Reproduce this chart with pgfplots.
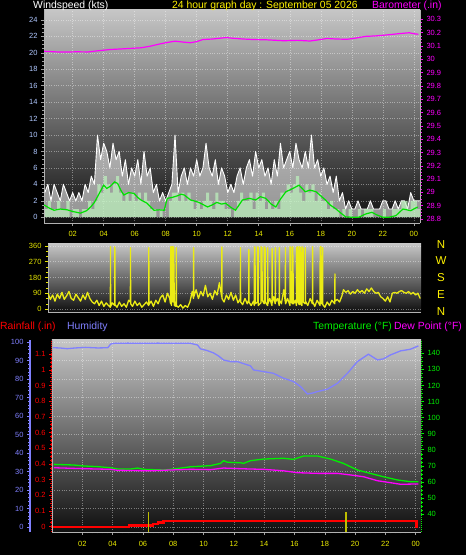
\documentclass[border=0pt]{standalone}
\usepackage{pgfplots}
\pgfplotsset{compat=1.18}
\usepackage{pgfplotstable}
\usepackage{fontspec}
\setmainfont{Liberation Sans}
\definecolor{windblue}{RGB}{176,200,255}
\definecolor{xyellow}{RGB}{235,235,0}
\definecolor{baromag}{RGB}{255,0,255}
\definecolor{humblue}{RGB}{128,128,255}
\definecolor{rainred}{RGB}{255,0,0}
\definecolor{tempgreen}{RGB}{0,240,0}
\definecolor{diryellow}{RGB}{230,230,0}
\definecolor{dirline}{RGB}{235,235,20}
\definecolor{avggreen}{RGB}{190,245,190}
\definecolor{linegreen}{RGB}{0,225,0}
\definecolor{markyellow}{RGB}{190,190,0}
\definecolor{ptop}{RGB}{198,198,198}
\definecolor{pbot}{RGB}{15,15,15}
\newcommand{\tf}{\fontsize{7.5}{8}\selectfont}
\newcommand{\hf}{\fontsize{10.4}{12}\selectfont}

\pgfplotstableread{
h g a
0.2 3 1
0.4 4 2
0.6 2 1
0.8 4 1
1.0 3 2
1.2 2 1
1.4 4 1
1.6 3 2
1.8 2 0
2.0 3 1
2.2 2 1
2.4 3 0
2.6 2 1
2.8 4 1
3.0 3 2
3.2 5 1
3.4 4 2
3.6 10 4
3.8 7 3
4.0 9 5
4.2 8 4
4.4 6 3
4.6 9 4
4.8 7 5
5.0 8 3
5.2 5 2
5.4 7 3
5.6 4 2
5.8 6 3
6.0 5 2
6.2 7 3
6.4 4 2
6.6 8 3
6.8 5 2
7.0 6 1
7.2 3 1
7.4 4 0
7.6 2 1
7.8 3 0
8.0 2 0
8.2 3 2
8.4 4 3
8.6 10 3
8.8 3 2
9.0 5 3
9.2 6 2
9.4 4 3
9.6 6 2
9.8 5 1
10.0 7 2
10.2 5 1
10.4 6 2
10.6 9 3
10.8 6 2
11.0 5 1
11.2 7 3
11.4 4 2
11.6 6 2
11.8 5 1
12.0 3 1
12.2 4 0
12.4 3 1
12.6 5 2
12.8 6 3
13.0 4 2
13.2 6 2
13.4 7 3
13.6 5 1
13.8 8 3
14.0 6 2
14.2 7 3
14.4 5 1
14.6 6 2
14.8 4 1
15.0 7 2
15.2 5 1
15.4 9 3
15.6 6 3
15.8 7 4
16.0 8 3
16.2 6 4
16.4 9 5
16.6 7 3
16.8 6 2
17.0 8 4
17.2 6 3
17.4 10 4
17.6 6 2
17.8 7 3
18.0 5 2
18.2 6 2
18.4 4 1
18.6 5 2
18.8 3 1
19.0 5 1
19.2 2 0
19.4 3 1
19.6 1 0
19.8 2 1
20.0 1 0
20.2 1 0
20.4 2 1
20.6 1 0
20.8 1 1
21.0 1 1
21.2 2 1
21.4 1 0
21.6 1 0
21.8 1 0
22.0 2 1
22.2 2 0
22.4 1 0
22.6 1 1
22.8 2 1
23.0 1 1
23.2 2 2
23.4 2 2
23.6 1 1
23.8 3 2
24.0 2 2
24.2 2 1
24.4 2 1
}\windtab

\pgfplotsset{
  every axis/.append style={
    scale only axis, anchor=south west,
    /pgf/number format/assume math mode=true,
    tick align=outside, major tick length=3pt, minor tick length=1.5pt,
    tick label style={font=\tf},
  },
  gridst/.style={major grid style={white, opacity=0.4, dotted, line width=0.5pt}},
}

\begin{document}
\begin{tikzpicture}[x=1pt,y=1pt]
\fill[black] (0,0) rectangle (466,555);
\useasboundingbox (0,0) rectangle (466,555);

% ---------------- Panel 1: wind speed ----------------
\begin{axis}[at={(44pt,332pt)}, width=376pt, height=213pt,
  xmin=0.15, xmax=24.4, ymin=-0.7, ymax=25.2,
  axis background/.style={top color=ptop, bottom color=pbot},
  axis y line*=left, axis x line*=bottom,
  axis line style={draw=gray!60!white, line width=0.8pt},
  xtick={2,4,...,24}, xticklabels={02,04,06,08,10,12,14,16,18,20,22,00},
  minor x tick num=3,
  ytick={0,2,...,24}, minor y tick num=3,
  tick style={gray!75!white, line width=0.5pt},
  xticklabel style={text=xyellow, yshift=-2pt},
  yticklabel style={text=windblue},
  grid=major, gridst,
]
\addplot[draw=none, fill=white, fill opacity=0.55] table[x=h,y=g] {\windtab} \closedcycle;
\addplot[white, line width=0.9pt, line join=round] table[x=h,y=g] {\windtab};
\addplot[const plot, draw=none, fill=avggreen, fill opacity=0.7] table[x=h,y=a] {\windtab} \closedcycle;
\addplot[linegreen, line width=1.2pt] coordinates {
(0.15,1.5) (0.5,1.1) (0.8,0.85) (1.2,1.0) (1.65,0.9) (2.0,0.7) (2.5,0.5) (2.9,0.8) (3.16,1.25) (3.4,1.8) (3.6,2.5) (3.8,3.2) (4.0,3.9) (4.2,3.5) (4.45,3.8) (4.7,4.3) (4.9,4.1) (5.1,3.3) (5.3,2.7) (5.6,3.0) (5.95,2.9) (6.2,2.4) (6.4,2.1) (6.8,1.7) (7.0,1.3) (7.25,0.85) (7.6,0.9) (7.9,0.85) (8.1,2.3) (8.4,2.4) (8.75,2.6) (9.0,2.8) (9.2,2.7) (9.6,2.1) (10.0,1.9) (10.25,1.7) (10.7,1.25) (11.0,1.5) (11.3,1.8) (11.6,1.6) (11.87,1.7) (12.2,1.2) (12.5,0.85) (12.95,2.1) (13.4,2.3) (13.8,2.1) (14.1,2.5) (14.45,2.3) (14.8,1.6) (15.1,1.25) (15.4,2.2) (15.75,3.1) (16.1,3.4) (16.4,3.7) (16.6,3.9) (16.8,3.5) (17.0,3.1) (17.3,3.3) (17.7,3.1) (18.0,2.6) (18.3,2.1) (18.6,1.5) (18.95,1.05) (19.3,0.5) (19.6,0.05) (20.0,0) (20.45,0) (20.9,0.4) (21.3,0.6) (21.6,0.3) (22.0,0) (22.4,0) (22.85,0.2) (23.3,1.0) (23.8,0.8) (24.25,1.25)};
\end{axis}

\begin{axis}[at={(44pt,332pt)}, width=376pt, height=213pt,
  xmin=0.15, xmax=24.4, ymin=28.77, ymax=30.37,
  axis y line*=right, axis x line=none,
  y axis line style={draw=gray!60!white, line width=0.8pt},
  ytick={28.8,28.9,29,29.1,29.2,29.3,29.4,29.5,29.6,29.7,29.8,29.9,30,30.1,30.2,30.3},
  minor y tick num=3,
  ytick style={baromag, line width=0.5pt},
  yticklabel style={text=baromag},
]
\addplot[baromag, line width=1.2pt] coordinates {
(0.15,30.060) (0.5,30.058) (1.0,30.055) (1.6,30.054) (2.2,30.056) (3.0,30.055) (3.5,30.062) (4.4,30.073) (5.2,30.078) (6.4,30.086) (7.0,30.098) (7.5,30.112) (8.0,30.124) (8.6,30.136) (9.2,30.128) (9.6,30.124) (10.0,30.133) (10.4,30.148) (11.0,30.152) (11.9,30.163) (12.3,30.158) (13.0,30.152) (13.7,30.148) (14.5,30.146) (15.6,30.139) (16.5,30.142) (17.3,30.137) (17.8,30.145) (18.4,30.156) (19.0,30.152) (19.7,30.150) (20.3,30.160) (20.9,30.172) (21.5,30.175) (22.2,30.182) (23.1,30.193) (23.7,30.199) (24.1,30.190) (24.3,30.188)};
\end{axis}

% ---------------- Panel 2: wind direction ----------------
\begin{axis}[at={(48pt,243pt)}, width=373pt, height=68pt,
  xmin=0.45, xmax=24.5, ymin=-17, ymax=371,
  axis background/.style={top color=ptop, bottom color=pbot},
  axis y line*=left, axis x line*=bottom,
  axis line style={draw=gray!60!white, line width=0.8pt},
  xtick=\empty,
  ytick={0,90,180,270,360}, minor y tick num=2,
  ytick style={diryellow, line width=0.5pt},
  yticklabel style={text=diryellow},
  ymajorgrids, gridst,
]
\addplot[dirline, line width=1.3pt, line join=round] coordinates {
(0.45,90) (0.6,55) (0.75,80) (0.9,45) (1.05,85) (1.2,60) (1.35,95) (1.5,55) (1.65,75) (1.8,100) (1.95,60) (2.1,50) (2.25,85) (2.4,65) (2.55,45) (2.7,80) (2.85,55) (3.0,95) (3.15,60) (3.3,40) (3.45,30) (3.6,50) (3.75,20) (3.9,45) (4.05,15) (4.2,35) (4.35,20) (4.47,10) (4.48,355) (4.49,15) (4.6,35) (4.75,20) (4.76,355) (4.77,25) (4.9,10) (5.05,40) (5.2,15) (5.35,30) (5.5,10) (5.65,50) (5.76,40) (5.77,350) (5.78,30) (5.9,15) (6.05,45) (6.2,20) (6.35,35) (6.5,10) (6.65,25) (6.8,40) (6.94,20) (6.95,350) (6.96,25) (7.1,45) (7.25,15) (7.4,50) (7.55,30) (7.7,65) (7.85,80) (8.0,40) (8.15,90) (8.3,60) (8.35,30) (8.36,355) (8.4,355) (8.41,20) (8.45,355) (8.5,355) (8.51,40) (8.55,355) (8.6,20) (8.71,15) (8.72,350) (8.73,20) (8.85,10) (9.0,25) (9.15,5) (9.3,20) (9.45,10) (9.6,40) (9.75,100) (9.83,60) (9.84,350) (9.85,70) (10.0,110) (10.15,60) (10.3,100) (10.45,75) (10.6,135) (10.75,70) (10.9,90) (11.05,55) (11.2,105) (11.35,80) (11.5,150) (11.65,70) (11.66,355) (11.67,60) (11.8,40) (11.95,80) (12.1,55) (12.25,95) (12.4,50) (12.55,80) (12.7,35) (12.85,60) (12.86,350) (12.87,40) (13.0,25) (13.15,60) (13.3,30) (13.39,50) (13.4,340) (13.41,40) (13.55,20) (13.7,45) (13.75,20) (13.76,355) (13.8,350) (13.81,30) (13.96,40) (13.97,355) (14.0,350) (14.01,20) (14.18,35) (14.19,355) (14.25,350) (14.26,50) (14.39,30) (14.4,355) (14.45,345) (14.46,40) (14.61,20) (14.62,350) (14.63,30) (14.75,60) (14.89,20) (14.9,345) (14.91,35) (15.0,70) (15.1,30) (15.11,350) (15.12,40) (15.25,60) (15.36,20) (15.37,350) (15.38,50) (15.5,30) (15.65,110) (15.75,40) (15.76,350) (15.77,30) (15.9,60) (16.05,20) (16.06,355) (16.12,350) (16.13,40) (16.22,30) (16.23,355) (16.28,30) (16.4,50) (16.47,20) (16.48,350) (16.55,355) (16.56,40) (16.65,25) (16.66,355) (16.72,350) (16.73,30) (16.82,20) (16.83,355) (16.9,345) (16.91,40) (17.03,30) (17.04,350) (17.05,45) (17.2,20) (17.35,60) (17.5,30) (17.51,355) (17.52,40) (17.65,15) (17.8,50) (17.99,20) (18.0,355) (18.05,355) (18.06,30) (18.15,40) (18.16,350) (18.17,25) (18.3,10) (18.45,40) (18.6,20) (18.75,50) (18.94,30) (18.95,200) (18.96,45) (19.1,55) (19.25,40) (19.4,75) (19.5,110) (19.65,95) (19.8,105) (19.95,85) (20.1,100) (20.25,90) (20.4,110) (20.55,95) (20.7,105) (20.85,90) (21.0,115) (21.15,100) (21.3,120) (21.45,100) (21.6,90) (21.75,95) (21.9,70) (22.05,60) (22.2,45) (22.35,70) (22.5,40) (22.65,90) (22.8,95) (22.95,90) (23.1,100) (23.25,105) (23.4,95) (23.55,90) (23.7,100) (23.85,85) (24.0,95) (24.15,80) (24.3,90) (24.45,60)};
\end{axis}

% ---------------- Panel 3 ----------------
\begin{axis}[at={(52pt,23pt)}, width=369pt, height=192pt,
  xmin=0, xmax=24.35, ymin=-2.7, ymax=101.2,
  axis background/.style={top color=ptop, bottom color=pbot},
  axis y line*=left, axis x line*=bottom,
  axis line style={draw=gray!60!white, line width=0.8pt},
  xtick={2,4,...,24}, xticklabels={02,04,06,08,10,12,14,16,18,20,22,00},
  minor x tick num=5,
  x tick style={gray!75!white, line width=0.5pt},
  ytick={0,10,...,100}, yticklabels={}, y tick style={draw=none},
  xticklabel style={text=xyellow, yshift=-3pt},
  grid=major, gridst,
]
\addplot[humblue, line width=1.3pt] coordinates {
(0.05,97) (0.5,96.9) (1.0,96.5) (1.56,96.9) (2.2,97.2) (3.0,96.9) (3.68,97) (3.87,99) (4.1,99.4) (5.0,99.5) (6.0,99.4) (7.0,99.5) (8.0,99.4) (9.14,99.4) (9.6,98.5) (9.8,96.4) (10.2,95.6) (10.66,94.2) (11.0,92.5) (11.32,90.4) (11.78,89.5) (12.24,89.5) (12.6,88.5) (13.1,87.2) (13.3,85) (13.96,84.1) (14.6,83.2) (15.28,80.5) (15.94,78.7) (16.4,76) (16.86,72) (17.2,72.5) (17.52,73.3) (18.18,74.6) (18.84,77.8) (19.5,83.2) (20.15,89.5) (20.88,93.5) (21.48,90.4) (21.87,91) (22.33,93.1) (23.0,95.3) (23.65,96.2) (24.18,98)};
\end{axis}

\begin{axis}[at={(52pt,23pt)}, width=369pt, height=192pt,
  xmin=0, xmax=24.35, ymin=-0.034, ymax=1.19,
  axis y line*=left, axis x line=none,
  y axis line style={draw=rainred, densely dotted, line width=1pt},
  ytick={0,0.1,0.2,0.3,0.4,0.5,0.6,0.7,0.8,0.9,1,1.1},
  minor y tick num=3,
  ytick style={rainred, line width=0.5pt},
  yticklabel style={text=rainred},
]
\addplot[rainred, line width=2.2pt] coordinates {
(0.05,0) (5.06,0) (5.06,0.007) (6.64,0.007) (6.64,0.017) (6.97,0.017) (6.97,0.027) (7.36,0.027) (7.36,0.034) (7.69,0.034) (7.69,0.037) (24.05,0.037) (24.05,-0.01)};
\addplot[markyellow, line width=1.1pt] coordinates {(6.39,-0.04) (6.39,0.096)};
\addplot[markyellow, line width=1.1pt] coordinates {(19.4,-0.04) (19.4,0.096)};
\end{axis}

\begin{axis}[at={(52pt,23pt)}, width=369pt, height=192pt,
  xmin=0, xmax=24.35, ymin=28.8, ymax=148.3,
  axis y line*=right, axis x line=none,
  y axis line style={draw=tempgreen, densely dotted, line width=1pt},
  ytick={40,50,...,140}, minor y tick num=3,
  ytick style={tempgreen, line width=0.5pt},
  yticklabel style={text=tempgreen},
]
\addplot[tempgreen, line width=1.3pt] coordinates {
(0.13,70.9) (1.43,70.5) (2.09,69.9) (3.0,69.5) (3.87,68.8) (4.33,68) (5.19,68) (5.65,68.6) (6.04,67.8) (7.36,67.4) (8.02,68) (9.14,69.4) (10.46,70.1) (11.12,71.5) (11.32,73.2) (11.58,72.2) (12.44,71.9) (12.64,71.5) (13.1,73.2) (13.96,74.2) (15.28,74.7) (15.94,74) (16.6,76.1) (17.52,76.1) (18.38,74.2) (19.23,71.5) (20.15,67.4) (21.0,65.3) (21.87,63.2) (22.79,61.2) (23.65,60.1) (24.18,60.1)};
\addplot[baromag, line width=1.3pt] coordinates {
(0.13,68.8) (2.09,68.2) (3.87,67.8) (4.33,67.2) (6.5,66.9) (7.82,67.4) (9.14,67.8) (10.46,67.6) (11.32,68.6) (12.44,68.2) (13.1,68) (13.96,67.8) (15.28,66.9) (16.2,65.7) (17.52,65.3) (18.84,65.3) (19.7,64.3) (20.56,63.2) (21.48,60.7) (22.33,59.5) (23.0,58.5) (24.18,58.7)};
\end{axis}

\begin{axis}[at={(30pt,23pt)}, width=22pt, height=192pt,
  xmin=0, xmax=1, ymin=-2.7, ymax=101.2,
  axis y line*=left, axis x line=none,
  y axis line style={draw=humblue, line width=2pt},
  ytick={0,10,...,100}, minor y tick num=4,
  ytick style={humblue, line width=0.5pt},
  yticklabel style={text=humblue},
]
\addplot[draw=none] coordinates {(0.5,50)};
\end{axis}

% ---------------- Titles ----------------
\node[anchor=west, inner sep=0, text=white, font=\hf] at (33,549) {Windspeed (kts)};
\node[anchor=west, inner sep=0, text=yellow, font=\hf] at (172,549) {24 hour graph day : September 05 2026};
\node[anchor=west, inner sep=0, text=baromag, font=\hf] at (372,549) {Barometer (.in)};
\node[anchor=west, inner sep=0, text=rainred, font=\hf] at (0,228.5) {Rainfall (.in)};
\node[anchor=west, inner sep=0, text=humblue, font=\hf] at (67,228.5) {Humidity};
\node[anchor=west, inner sep=0, text=tempgreen, font=\hf] at (313,228.5) {Temperature (°F)};
\node[anchor=west, inner sep=0, text=baromag, font=\hf] at (394,228.5) {Dew Point (°F)};
\foreach \l/\yy in {N/310, W/294, S/277, E/260, N/243}
  \node[text=yellow, font=\fontsize{11.5}{12}\selectfont, inner sep=0] at (441,\yy) {\l};
\end{tikzpicture}
\end{document}
